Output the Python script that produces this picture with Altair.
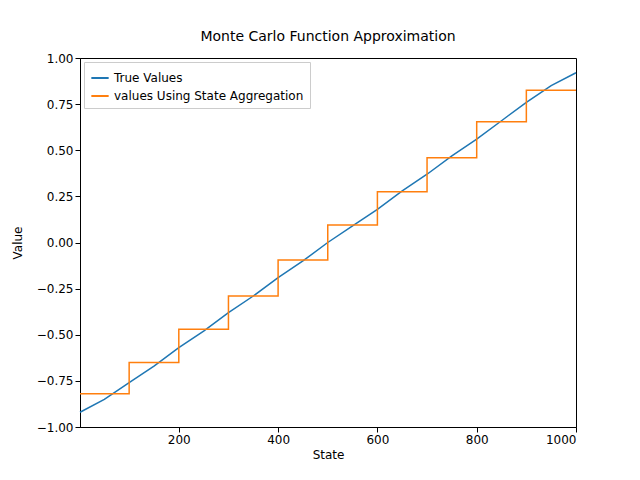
import altair as alt
import pandas as pd

true_states = [1, 50, 100, 150, 200, 250, 300, 350, 400, 450, 500,
               550, 600, 650, 700, 750, 800, 850, 900, 950, 1000]
true_values = [-0.92, -0.85, -0.76, -0.67, -0.57, -0.48, -0.38, -0.29, -0.19, -0.10, 0.0,
               0.09, 0.18, 0.28, 0.37, 0.47, 0.56, 0.66, 0.76, 0.85, 0.92]

# state aggregation step values (10 groups of 100)
agg_states = [1, 100, 200, 300, 400, 500, 600, 700, 800, 900, 1000]
agg_values = [-0.82, -0.65, -0.47, -0.29, -0.095, 0.095, 0.275, 0.46, 0.655, 0.825, 0.825]

s1 = "True Values"
s2 = "values Using State Aggregation"

df_true = pd.DataFrame({"State": true_states, "Value": true_values, "series": s1})
df_agg = pd.DataFrame({"State": agg_states, "Value": agg_values, "series": s2})

color = alt.Color("series:N", title=None,
                  scale=alt.Scale(domain=[s1, s2], range=["#1f77b4", "#ff7f0e"]),
                  legend=alt.Legend(orient="top-left", symbolType="stroke", symbolStrokeWidth=2,
                                    labelFontSize=12, labelLimit=0, fillColor="white",
                                    strokeColor="#cccccc", padding=6, offset=4, symbolSize=300))

x = alt.X("State:Q", scale=alt.Scale(domain=[1, 1000], nice=False),
          axis=alt.Axis(values=[200, 400, 600, 800, 1000], format="d", grid=False, title="State"))
y = alt.Y("Value:Q", scale=alt.Scale(domain=[-1, 1]),
          axis=alt.Axis(values=[-1, -0.75, -0.5, -0.25, 0, 0.25, 0.5, 0.75, 1], format=".2f",
                        grid=False, title="Value", titlePadding=12))

line_true = alt.Chart(df_true).mark_line(strokeWidth=1.5).encode(x=x, y=y, color=color)
line_agg = alt.Chart(df_agg).mark_line(interpolate="step-after", strokeWidth=1.5).encode(x=x, y=y, color=color)

chart = (line_true + line_agg).properties(
    width=496, height=369,
    title=alt.TitleParams("Monte Carlo Function Approximation", fontSize=14, fontWeight="normal", offset=8),
    autosize=alt.AutoSizeParams(type="none"),
    padding={"left": 72, "top": 50, "right": 56, "bottom": 45},
).configure_axis(
    domainColor="black", tickColor="black", labelColor="black", titleColor="black",
    labelFontSize=12, titleFontSize=12, titleFontWeight="normal", labelFont="DejaVu Sans",
    titleFont="DejaVu Sans",
).configure_title(font="DejaVu Sans").configure_legend(labelFont="DejaVu Sans").configure_view(stroke="black")

chart.save("out.html", embed_options={"renderer": "svg", "actions": False})
